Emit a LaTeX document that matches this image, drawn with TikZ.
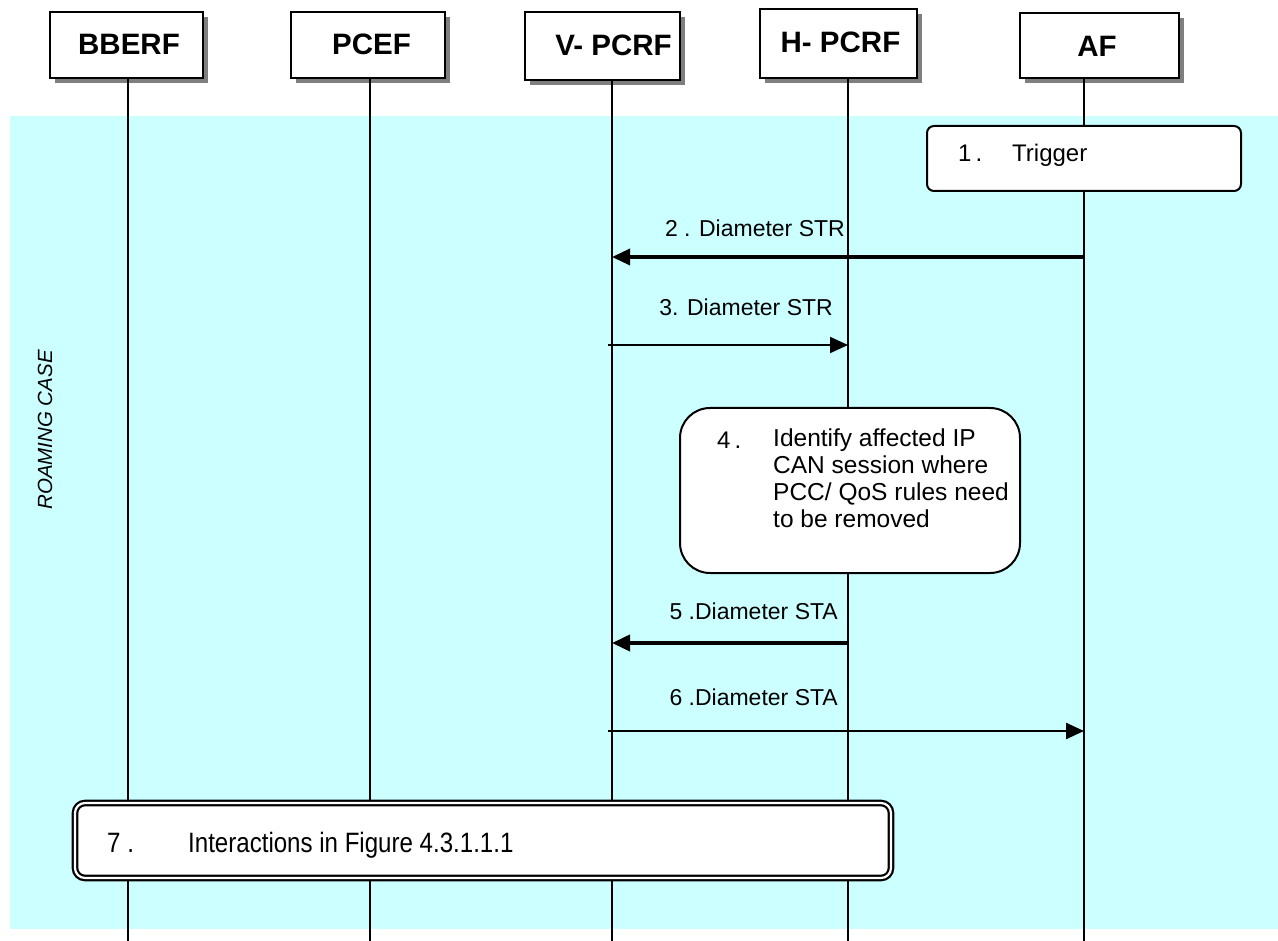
\documentclass[tikz,border=0pt]{standalone}
\usepackage{fontspec}
\setmainfont{Liberation Sans}
\newfontfamily\narrowfont[FakeStretch=0.86]{Liberation Sans}
\usetikzlibrary{arrows.meta,shadows}
\definecolor{bgcyan}{HTML}{CCFFFF}
\definecolor{shadowgray}{HTML}{7F7F7F}
\begin{document}
\begin{tikzpicture}[x=1pt,y=-1pt,
  hdr/.style={draw,line width=2pt,fill=white,minimum width=155pt,minimum height=66pt,inner sep=0pt,
    drop shadow={shadow xshift=5pt,shadow yshift=-5pt,fill=shadowgray,opacity=1}},
  hdrtxt/.style={inner sep=0pt,font=\fontsize{29.5}{32}\selectfont\bfseries},
  life/.style={line width=1.3pt},
  lbl/.style={font=\fontsize{23}{27}\selectfont,inner sep=0pt,anchor=base east},
  txt/.style={font=\fontsize{24}{27}\selectfont,inner sep=0pt},
  msgtip/.style={-{Triangle[length=18pt,width=16pt]}},
  stepbox/.style={draw,line width=2pt,fill=white,inner sep=0pt}
]
\useasboundingbox (0,0) rectangle (1278,941);
\fill[bgcyan] (10,116) rectangle (1278,929);

% headers
\node[hdr,minimum width=153pt] (bberf) at (126.5,45) {};
\node[hdr,minimum width=154pt] (pcef)  at (368,45) {};
\node[hdr,minimum width=155pt,minimum height=68pt] (vpcrf) at (602.5,46) {};
\node[hdr,minimum width=157pt,minimum height=69pt] (hpcrf) at (838.5,43.5) {};
\node[hdr,minimum width=159pt,minimum height=65pt] (af)    at (1099.5,45.5) {};
\node[hdrtxt] (tb) at (129,44) {BBERF};
\node[hdrtxt] (tp) at (371.5,44) {PCEF};
\node[hdrtxt] (tv) at (613.5,45) {V- PCRF};
\node[hdrtxt] (th) at (840.5,42) {H- PCRF};
\node[hdrtxt] (ta) at (1097,46) {AF};

% lifelines
\coordinate (ybot) at (0,941);
\coordinate (lb) at (128,0 |- bberf.south);
\coordinate (lp) at (370,0 |- pcef.south);
\coordinate (lv) at (612,0 |- vpcrf.south);
\coordinate (lh) at (848,0 |- hpcrf.south);
\coordinate (la) at (1084,0 |- af.south);
\foreach \n in {lb,lp,lv,lh,la}{
  \draw[life] (\n) -- (\n |- ybot);
}

% y levels
\coordinate (y2) at (0,257);
\coordinate (y3) at (0,345);
\coordinate (y5) at (0,643);
\coordinate (y6) at (0,731);

% side label
\node[font=\fontsize{20.5}{24}\selectfont\itshape,rotate=90,inner sep=0pt] (roam) at (45,430) {ROAMING CASE};

% step 1
\node[stepbox,rounded corners=7pt,minimum width=314pt,minimum height=65pt] (s1) at (1084,158.5) {};
\node[txt,anchor=base west] (s1n) at (958,161.5) {1\,.};
\node[txt,anchor=base west] (s1t) at (1012,161.5) {Trigger};

% step 2
\draw[line width=3.4pt,msgtip] (la |- y2) -- (lv |- y2);
\node[lbl] (l2) at (845,237) {2 . Diameter STR};

% step 3
\draw[line width=2pt,msgtip] ([xshift=-4pt]lv |- y3) -- (lh |- y3);
\node[lbl] (l3) at (833,316) {3. Diameter STR};

% step 4
\node[stepbox,rounded corners=30pt,minimum width=340pt,minimum height=165pt] (s4) at (850,490.5) {};
\node[txt,anchor=base west] (s4n) at (717,448) {4\,.};
\node[txt,font=\fontsize{24.5}{27}\selectfont,anchor=north west,align=left] (s4t) at (773,429)
  {Identify affected IP\\CAN session where\\PCC/ QoS rules need\\to be removed};

% step 5
\draw[line width=3.8pt,msgtip] (lh |- y5) -- (lv |- y5);
\node[lbl] (l5) at (838,619) {5 .Diameter STA};

% step 6
\draw[line width=2.4pt,msgtip] ([xshift=-4pt]lv |- y6) -- (la |- y6);
\node[lbl] (l6) at (838,705) {6 .Diameter STA};

% step 7
\node[draw,line width=2.2pt,double=white,double distance=2.2pt,fill=white,rounded corners=10pt,
      minimum width=816pt,minimum height=75pt] (s7) at (483,840.5) {};
\node[inner sep=0pt,font=\narrowfont\fontsize{28}{32}\selectfont,anchor=base west] (s7n) at (107,852) {7 .};
\node[inner sep=0pt,font=\narrowfont\fontsize{28}{32}\selectfont,anchor=base west] (s7t) at (188,852) {Interactions in Figure 4.3.1.1.1};
\end{tikzpicture}
\end{document}
